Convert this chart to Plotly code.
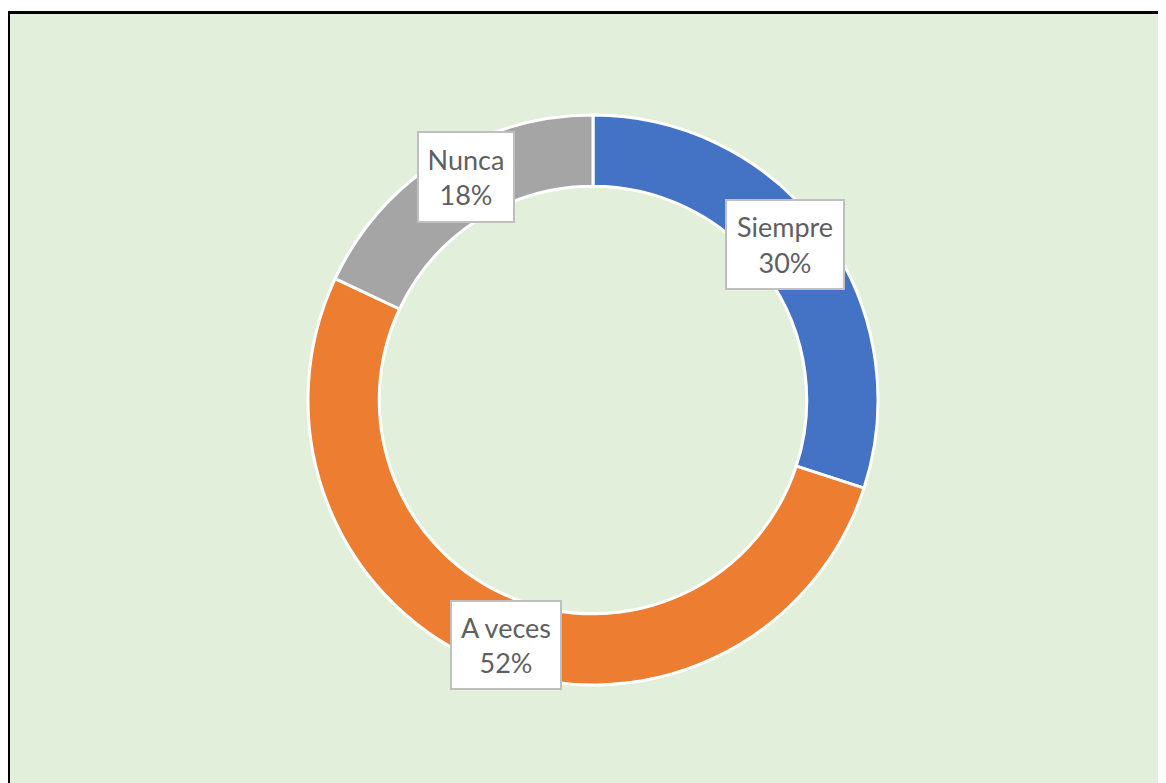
import math
import plotly.graph_objects as go

labels = ["Siempre", "A veces", "Nunca"]
values = [30, 52, 18]
colors = ["#4472C4", "#ED7D31", "#A5A5A5"]

W, H = 1158, 775                  # fits the window with the page's 8px body margin
CX, CY, R = 585, 392, 285          # figure pixels
HOLE = 0.75
LABEL_RX, LABEL_RY = 237, 264
BOX_W = [120, 112, 98]
BOX_H = [91, 90, 92]

fig = go.Figure()
fig.add_trace(go.Pie(
    labels=labels, values=values, hole=HOLE, sort=False, direction="clockwise",
    rotation=0, textinfo="none", hoverinfo="skip", showlegend=False,
    marker=dict(colors=colors, line=dict(color="white", width=3)),
    domain=dict(x=[(CX - R) / W, (CX + R) / W], y=[(H - CY - R) / H, (H - CY + R) / H]),
))

total = sum(values)
cum = 0
annotations = []
for i, (lab, v) in enumerate(zip(labels, values)):
    mid = (cum + v / 2) / total * 2 * math.pi
    cum += v
    px = CX + LABEL_RX * math.sin(mid)
    py = CY - LABEL_RY * math.cos(mid)
    annotations.append(dict(
        x=px / W, y=1 - py / H, xref="paper", yref="paper",
        text=f"{lab}<br>{round(v / total * 100)}%", showarrow=False,
        font=dict(family="Lato, Calibri, sans-serif", size=27, color="#5f5f5f"),
        bgcolor="white", bordercolor="#BFBFBF", borderwidth=2, borderpad=4,
        width=BOX_W[i] - 12, height=BOX_H[i] - 12, align="center", valign="middle",
        xanchor="center", yanchor="middle",
    ))

top = 1 - 4.5 / H
left = 0.5 / W
fig.update_layout(
    width=W, height=H, margin=dict(l=0, r=0, t=0, b=0),
    paper_bgcolor="white", plot_bgcolor="white",
    annotations=annotations,
    shapes=[
        dict(type="rect", xref="paper", yref="paper", layer="below",
             x0=left, x1=1.2, y0=-0.2, y1=top,
             fillcolor="#E2EFDA", line=dict(width=0)),
        dict(type="line", xref="paper", yref="paper", layer="below",
             x0=left - 1.5 / W, x1=1.2, y0=top, y1=top, line=dict(color="black", width=3)),
        dict(type="line", xref="paper", yref="paper", layer="below",
             x0=left, x1=left, y0=-0.2, y1=top, line=dict(color="black", width=3)),
    ],
)
fig.write_html("out.html")
